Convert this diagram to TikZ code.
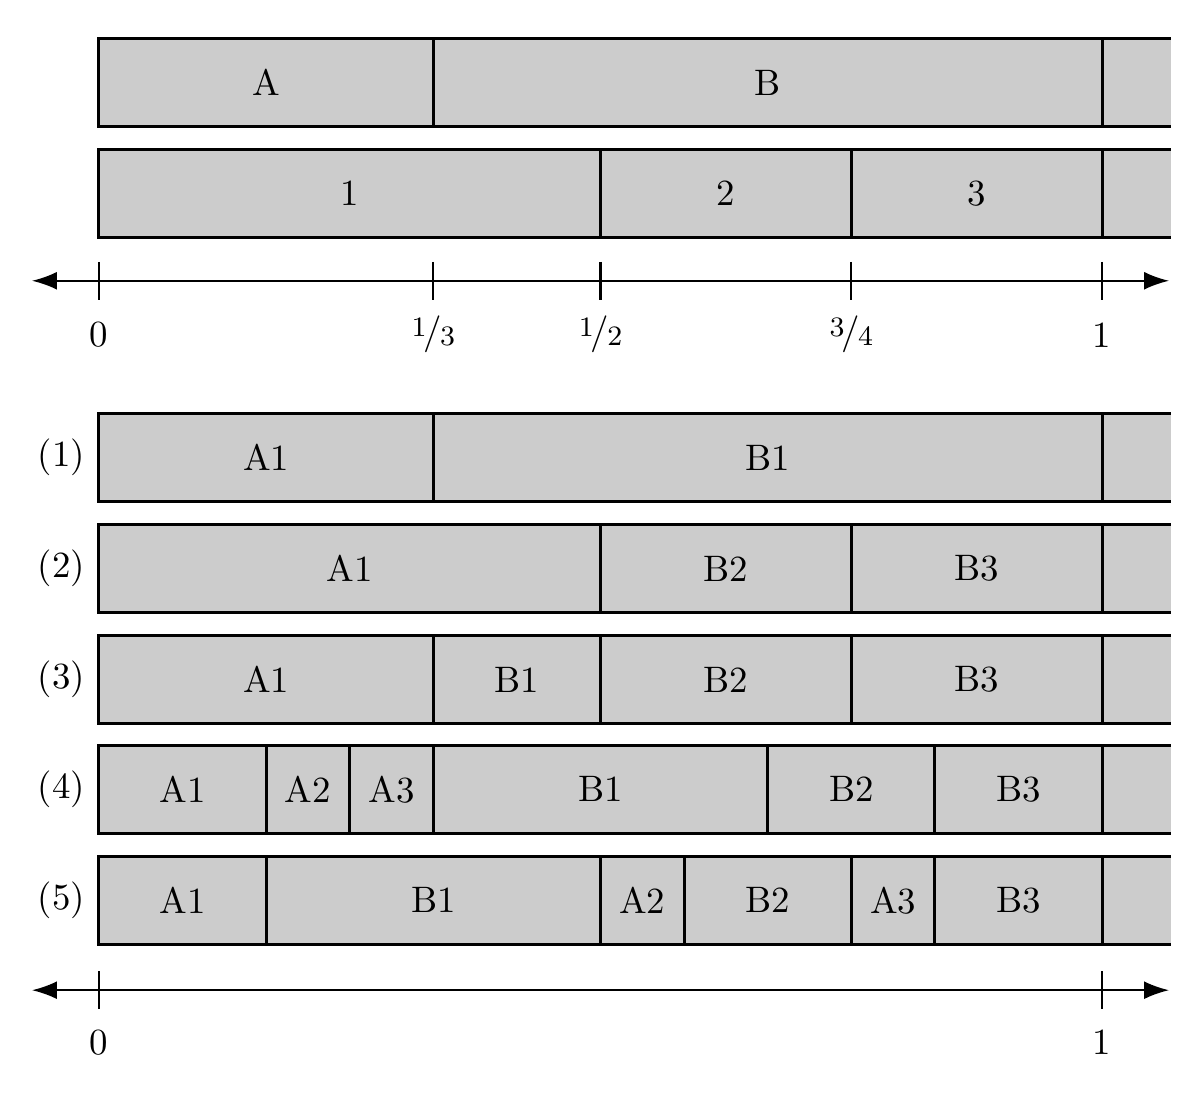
\documentclass[tikz,border=0pt]{standalone}
\usepackage{tikz}
\usetikzlibrary{arrows.meta}

\definecolor{barfill}{gray}{0.8}
\newcommand{\frc}[2]{\raisebox{0.45ex}{\fontsize{8}{9}\selectfont #1}\kern-0.08em/\kern-0.05em\raisebox{-0.1ex}{\fontsize{8}{9}\selectfont #2}}
% one segment of a bar: name, from, to, row, label
\newcommand{\seg}[5]{\node[seg, minimum width={(#3-#2)*10.04cm}] (#1) at ({(#2+#3)/2},#4) {#5};}
% open part of a bar behind 1
\newcommand{\tailbar}[1]{%
  \fill[barfill] (1,#1+0.44) rectangle (1.0687,#1-0.44);
  \draw[barline] (1,#1+0.44) -- (1.0687,#1+0.44);
  \draw[barline] (1,#1-0.44) -- (1.0687,#1-0.44);}

\begin{document}
\begin{tikzpicture}[x=10.04cm, y=1cm,
    font=\fontsize{10.5}{12}\selectfont,
    barline/.style={line width=0.85pt},
    seg/.style={rectangle, draw, fill=barfill, barline, minimum height=0.88cm, inner sep=0pt},
    axis/.style={line width=0.6pt, {Latex[length=0.25cm,width=0.18cm]}-{Latex[length=0.25cm,width=0.18cm]}},
    tick/.style={line width=0.6pt}]
\useasboundingbox (-0.0986,0) rectangle (1.0976,-10.96);

% upper bars
\tailbar{-0.825}
\seg{ta}{0}{1/3}{-0.825}{A}
\seg{tb}{1/3}{1}{-0.825}{B}
\tailbar{-1.935}
\seg{t1}{0}{1/2}{-1.935}{1}
\seg{t2}{1/2}{3/4}{-1.935}{2}
\seg{t3}{3/4}{1}{-1.935}{3}

% upper axis
\coordinate (al) at (-0.0667,-2.81);
\coordinate (ar) at (1.0667,-2.81);
\draw[axis] (al) -- (ar);
\foreach \f/\lab in {0/0, 0.33333/\frc{1}{3}, 0.5/\frc{1}{2}, 0.75/\frc{3}{4}, 1/1} {
    \draw[tick] (\f,-2.62) -- (\f,-3.00);
    \node at (\f,-3.35) {\lab};
}

% lower bars
\begin{scope}
\tailbar{-4.58}
\seg{a1}{0}{1/3}{-4.58}{A1}
\seg{a2}{1/3}{1}{-4.58}{B1}

\tailbar{-5.69}
\seg{b1}{0}{1/2}{-5.69}{A1}
\seg{b2}{1/2}{3/4}{-5.69}{B2}
\seg{b3}{3/4}{1}{-5.69}{B3}

\tailbar{-6.80}
\seg{c1}{0}{1/3}{-6.80}{A1}
\seg{c2}{1/3}{1/2}{-6.80}{B1}
\seg{c3}{1/2}{3/4}{-6.80}{B2}
\seg{c4}{3/4}{1}{-6.80}{B3}

\tailbar{-7.90}
\seg{d1}{0}{1/6}{-7.90}{A1}
\seg{d2}{1/6}{1/4}{-7.90}{A2}
\seg{d3}{1/4}{1/3}{-7.90}{A3}
\seg{d4}{1/3}{2/3}{-7.90}{B1}
\seg{d5}{2/3}{5/6}{-7.90}{B2}
\seg{d6}{5/6}{1}{-7.90}{B3}

\tailbar{-9.01}
\seg{e1}{0}{1/6}{-9.01}{A1}
\seg{e2}{1/6}{1/2}{-9.01}{B1}
\seg{e3}{1/2}{7/12}{-9.01}{A2}
\seg{e4}{7/12}{3/4}{-9.01}{B2}
\seg{e5}{3/4}{5/6}{-9.01}{A3}
\seg{e6}{5/6}{1}{-9.01}{B3}
\end{scope}

% row numbers
\node[left] (n1) at (a1.west) {(1)};
\node[left] (n2) at (b1.west) {(2)};
\node[left] (n3) at (c1.west) {(3)};
\node[left] (n4) at (d1.west) {(4)};
\node[left] (n5) at (e1.west) {(5)};

% lower axis
\coordinate (bl) at (-0.0667,-9.91);
\coordinate (br) at (1.0667,-9.91);
\draw[axis] (bl) -- (br);
\foreach \f in {0,1} {
    \draw[tick] (\f,-9.72) -- (\f,-10.10);
    \node at (\f,-10.43) {\f};
}
\end{tikzpicture}
\end{document}
